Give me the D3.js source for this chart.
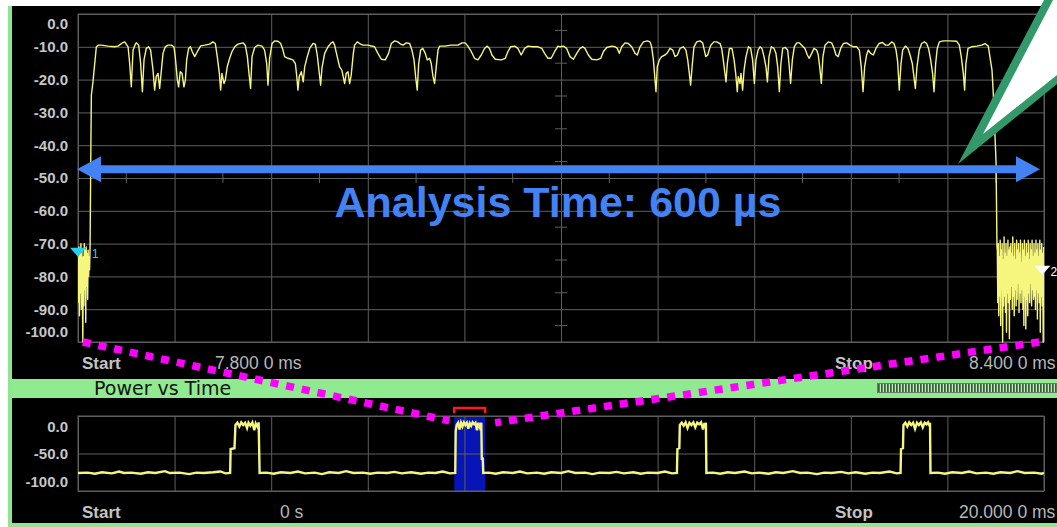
<!DOCTYPE html>
<html>
<head>
<meta charset="utf-8">
<script src="https://cdn.jsdelivr.net/npm/d3@7"></script>
<style>
html, body { margin: 0; padding: 0; background: #fff; }
svg { display: block; }
</style>
</head>
<body>
<svg id="chart" width="1057" height="527"></svg>
<script>
// top trace: time (us from 7.800 ms), level (dB)
const topTrace = [
  [0.0,-74],[0.3,-88],[0.6,-71],[0.9,-92],[1.2,-73],[1.5,-85],[1.8,-70],[2.1,-90],[2.4,-72],[2.7,-86],
  [3.0,-100],[3.3,-74],[3.6,-89],[3.9,-70],[4.2,-84],[4.5,-72],[4.8,-94],[5.1,-71],[5.4,-83],[5.7,-73],
  [6.0,-87],[6.3,-72],[6.6,-80],[6.9,-74],[7.2,-78],[7.5,-71],[8.0,-40],[8.3,-24.7],[9.3,-20.7],[11.4,-10.0],
  [12.8,-9.5],[14.5,-9.5],[18.6,-9.8],[22.8,-10.0],[24.8,-9.8],[27.9,-8.7],[29.0,-8.5],[31.1,-10.0],[32.1,-15.1],[33.1,-22.2],
  [34.2,-11.0],[35.6,-9.2],[36.2,-8.8],[37.7,-9.5],[38.9,-15.1],[40.0,-23.7],[41.0,-14.0],[42.4,-10.5],[43.9,-10.0],[45.1,-11.0],
  [46.6,-17.1],[47.6,-23.2],[48.6,-19.1],[49.7,-18.1],[50.7,-22.7],[51.8,-17.1],[52.8,-12.0],[54.2,-10.0],[55.9,-9.5],[58.0,-9.5],
  [59.6,-10.0],[60.4,-13.0],[61.7,-20.1],[62.5,-22.2],[63.5,-17.6],[64.6,-18.1],[65.8,-22.2],[66.7,-20.1],[67.5,-14.0],[68.7,-10.5],
  [69.8,-10.0],[71.0,-11.5],[72.5,-13.0],[74.1,-11.5],[76.2,-9.7],[78.7,-9.5],[81.8,-9.2],[83.8,-8.5],[85.3,-9.0],[86.5,-13.0],
  [87.8,-18.1],[88.6,-23.2],[89.4,-18.1],[90.7,-21.2],[91.5,-20.1],[92.7,-16.1],[94.2,-13.5],[95.6,-11.5],[97.3,-10.0],[99.4,-9.2],
  [102.5,-8.8],[103.9,-9.5],[105.2,-13.0],[106.2,-18.1],[107.2,-22.7],[108.1,-13.0],[109.7,-10.2],[111.8,-9.5],[114.3,-9.8],[115.9,-11.0],
  [117.2,-15.1],[118.0,-21.7],[119.0,-13.5],[120.5,-9.0],[122.1,-8.2],[124.2,-8.3],[125.9,-9.0],[127.3,-11.0],[128.3,-13.0],[130.4,-13.5],
  [133.5,-14.0],[135.0,-15.1],[135.8,-18.6],[136.6,-23.2],[137.4,-19.1],[138.7,-17.6],[139.9,-20.7],[140.8,-16.1],[142.4,-13.0],[143.9,-10.5],
  [145.9,-9.0],[147.4,-9.2],[148.6,-12.5],[150.1,-19.1],[150.7,-21.7],[151.5,-16.6],[153.2,-12.0],[155.3,-10.0],[157.3,-8.8],[158.4,-8.5],
  [159.4,-9.5],[161.0,-13.0],[162.5,-16.1],[163.9,-17.1],[165.6,-21.2],[166.6,-18.1],[167.7,-17.6],[168.7,-21.2],[169.7,-18.6],[171.0,-12.0],
  [171.8,-9.5],[173.5,-8.5],[174.9,-9.0],[177.0,-9.5],[180.1,-9.5],[184.2,-10.0],[186.3,-12.0],[188.4,-13.8],[190.9,-14.0],[192.9,-12.0],
  [194.6,-9.0],[196.7,-8.2],[198.7,-8.5],[200.4,-9.2],[201.8,-9.5],[203.9,-8.8],[206.0,-9.0],[207.4,-11.0],[208.7,-14.0],[209.7,-19.1],
  [210.7,-23.2],[211.6,-15.1],[212.8,-11.0],[214.2,-10.5],[215.7,-12.0],[216.9,-14.0],[218.4,-13.5],[219.4,-15.1],[220.5,-19.1],[221.5,-21.2],
  [222.5,-16.1],[223.6,-11.0],[224.6,-9.8],[227.7,-9.8],[231.8,-9.5],[236.0,-9.5],[238.5,-8.8],[240.5,-8.8],[242.2,-9.8],[244.3,-11.5],
  [246.3,-13.5],[248.4,-14.0],[250.5,-12.5],[252.5,-10.5],[254.2,-9.8],[255.6,-10.5],[257.1,-12.5],[259.2,-13.8],[262.9,-14.0],[265.4,-13.5],
  [267.0,-11.5],[268.7,-10.0],[271.2,-9.8],[273.2,-10.5],[275.3,-12.5],[277.4,-10.5],[279.5,-9.8],[282.6,-10.0],[285.7,-10.0],[288.1,-10.5],
  [289.8,-12.0],[291.9,-13.5],[293.9,-13.5],[296.0,-11.5],[298.1,-9.8],[299.4,-10.0],[301.5,-9.8],[303.5,-10.5],[305.6,-13.0],[307.7,-13.8],
  [309.8,-12.0],[311.8,-10.5],[313.5,-10.0],[314.9,-10.5],[317.0,-12.5],[319.1,-13.8],[322.2,-14.0],[324.7,-13.5],[326.3,-11.5],[328.4,-10.2],
  [331.5,-9.8],[333.6,-10.0],[335.0,-10.5],[336.2,-12.0],[337.7,-10.0],[339.8,-8.8],[341.8,-9.0],[343.9,-10.0],[346.0,-12.0],[347.4,-12.5],
  [349.1,-10.0],[351.2,-8.5],[353.6,-8.2],[355.3,-8.5],[356.3,-10.0],[357.4,-14.0],[358.4,-20.1],[359.0,-23.7],[359.8,-16.1],[361.1,-14.0],
  [362.5,-13.0],[364.6,-12.5],[366.1,-11.8],[367.7,-10.5],[369.4,-11.0],[370.8,-13.0],[372.3,-12.5],[373.9,-10.5],[376.0,-10.0],[377.6,-11.0],
  [378.7,-14.0],[379.7,-18.1],[380.5,-21.7],[381.6,-15.1],[382.6,-10.0],[384.3,-8.5],[386.3,-8.2],[388.0,-8.8],[389.0,-11.0],[389.9,-13.0],
  [391.1,-12.5],[393.0,-9.5],[395.0,-8.5],[396.7,-8.5],[398.8,-9.0],[399.8,-10.5],[400.8,-14.0],[401.7,-17.6],[402.5,-20.7],[403.3,-15.1],
  [404.6,-10.5],[406.2,-10.5],[407.5,-14.0],[408.5,-18.1],[409.5,-23.7],[410.1,-19.1],[411.2,-21.2],[411.8,-18.1],[412.8,-23.2],[413.7,-17.1],
  [414.9,-13.0],[416.4,-10.0],[417.8,-10.5],[419.0,-14.0],[420.1,-21.2],[421.1,-14.0],[422.4,-11.0],[423.6,-10.0],[424.8,-10.5],[426.1,-13.0],
  [427.3,-16.1],[428.2,-20.7],[429.2,-13.0],[430.6,-10.0],[432.3,-10.5],[433.5,-12.0],[434.6,-16.1],[435.6,-23.7],[436.6,-15.1],[437.7,-10.5],
  [439.3,-10.2],[440.8,-11.0],[441.8,-16.1],[442.6,-21.2],[443.7,-14.0],[444.9,-10.0],[446.4,-8.8],[448.0,-8.8],[449.5,-9.5],[451.5,-10.5],
  [453.0,-12.5],[454.2,-13.5],[455.7,-12.0],[457.1,-10.5],[458.8,-11.0],[459.8,-12.5],[460.9,-17.1],[461.7,-21.2],[462.7,-13.0],[464.0,-9.5],
  [466.0,-8.5],[468.1,-8.8],[469.6,-10.5],[470.8,-12.5],[472.2,-13.0],[473.7,-10.5],[475.4,-9.0],[477.4,-8.8],[479.5,-9.5],[481.6,-10.0],
  [483.6,-10.0],[485.3,-11.0],[486.5,-16.1],[487.6,-23.7],[488.6,-16.1],[489.8,-12.5],[490.9,-11.0],[492.3,-12.0],[494.0,-12.5],[495.6,-10.5],
  [497.5,-9.0],[499.6,-8.7],[501.6,-9.5],[503.3,-9.5],[505.4,-8.5],[506.8,-9.0],[508.1,-11.0],[509.1,-14.6],[510.1,-23.2],[511.2,-15.1],
  [512.2,-11.0],[513.9,-9.8],[515.5,-10.5],[516.8,-12.5],[518.2,-15.1],[519.2,-19.1],[520.1,-22.7],[521.1,-16.1],[522.5,-11.0],[524.0,-9.0],
  [525.7,-8.5],[527.1,-9.0],[528.3,-10.5],[529.6,-14.0],[530.8,-18.1],[531.7,-23.7],[532.7,-15.1],[533.7,-10.5],[535.0,-8.5],[537.5,-8.2],
  [541.6,-8.2],[545.7,-8.3],[547.4,-9.5],[548.6,-13.0],[549.9,-18.1],[550.7,-23.2],[551.5,-15.1],[552.8,-10.5],[555.0,-10.0],[558.2,-9.8],
  [561.3,-9.5],[563.3,-9.0],[565.4,-9.8],[566.4,-13.0],[567.7,-17.1],[568.5,-24.2],[570.2,-45],[570.8,-71],
  [571.0,-72],[571.3,-88],[571.6,-70],[571.9,-92],[572.2,-74],[572.5,-86],[572.8,-69],[573.1,-95],[573.4,-72],[573.7,-84],
  [574.0,-70],[574.3,-100],[574.6,-75],[574.9,-89],[575.2,-68],[575.5,-86],[575.8,-73],[576.1,-91],[576.4,-70],[576.7,-97],
  [577.0,-74],[577.3,-85],[577.6,-69],[577.9,-88],[578.2,-72],[578.5,-99],[578.8,-71],[579.1,-87],[579.4,-70],[579.7,-83],
  [580.0,-73],[580.3,-90],[580.6,-68],[580.9,-86],[581.2,-74],[581.5,-92],[581.8,-70],[582.1,-84],[582.4,-75],[582.7,-89],
  [583.0,-69],[583.3,-87],[583.6,-72],[583.9,-82],[584.2,-70],[584.5,-91],[584.8,-73],[585.1,-85],[585.4,-69],[585.7,-88],
  [586.0,-76],[586.3,-84],[586.6,-70],[586.9,-90],[587.2,-72],[587.5,-95],[587.8,-69],[588.1,-86],[588.4,-74],[588.7,-96],
  [589.0,-70],[589.3,-87],[589.6,-73],[589.9,-92],[590.2,-69],[590.5,-85],[590.8,-75],[591.1,-88],[591.4,-70],[591.7,-82],
  [592.0,-72],[592.3,-89],[592.6,-69],[592.9,-84],[593.2,-74],[593.5,-87],[593.8,-70],[594.1,-86],[594.4,-73],[594.7,-90],
  [595.0,-69],[595.3,-84],[595.6,-72],[595.9,-93],[596.2,-70],[596.5,-85],[596.8,-74],[597.1,-88],[597.4,-69],[597.7,-97],
  [598.0,-72],[598.3,-86],[598.6,-70],[598.9,-89],[599.2,-73],[599.5,-100],[599.8,-71]
];

// bottom trace: time (ms), level (dB)
const bottomTrace = [
  [0.0,-76],[0.2,-75.5],[0.35,-77],[0.5,-75],[0.7,-76.5],[0.85,-74],[0.95,-76],[1.1,-75.5],[1.3,-77],[1.45,-75],
  [1.6,-76],[1.8,-73.5],[1.9,-76],[2.1,-75.5],[2.3,-77.5],[2.45,-75.5],[2.6,-76],[2.8,-75],[2.95,-74],[3.05,-76.5],[3.15,-76],
  [3.16,-44],[3.24,-43],[3.26,-12],[3.3,-9],[3.34,-14],[3.38,-8.5],[3.42,-12],[3.46,-9],[3.5,-16],[3.53,-9],
  [3.57,-13],[3.61,-8.5],[3.65,-19],[3.68,-10],[3.72,-15],[3.74,-8.5],[3.76,-76],
  [3.9,-75.5],[4.05,-77],[4.2,-75],[4.4,-76],[4.55,-74],[4.7,-76.5],[4.9,-75.5],[5.05,-77.5],[5.2,-75],[5.4,-76],
  [5.55,-73.5],[5.7,-76],[5.9,-75.5],[6.05,-77],[6.2,-75.5],[6.4,-76],[6.55,-74.5],[6.7,-76.5],[6.9,-75],[7.1,-77],
  [7.25,-75.5],[7.4,-76],[7.55,-74],[7.7,-76.5],[7.81,-76],
  [7.82,-20],[7.84,-12],[7.87,-9],[7.9,-18],[7.93,-9],[7.96,-14],[7.99,-8.5],[8.02,-12],[8.05,-9],[8.08,-17],
  [8.11,-9.5],[8.14,-13],[8.17,-8.5],[8.2,-11],[8.23,-9],[8.26,-19],[8.29,-9],[8.32,-15],[8.35,-9],[8.36,-57],[8.38,-57],[8.39,-76],
  [8.5,-75.5],[8.65,-77],[8.8,-75],[9.0,-76],[9.15,-74],[9.3,-76.5],[9.5,-75.5],[9.65,-77],[9.8,-75],[10.0,-76],
  [10.15,-73.5],[10.3,-76],[10.5,-75.5],[10.65,-77.5],[10.8,-75.5],[11.0,-76],[11.15,-74.5],[11.3,-76.5],[11.5,-75],[11.65,-77],
  [11.8,-75.5],[12.0,-76],[12.15,-74],[12.3,-76.5],[12.4,-76],
  [12.41,-44],[12.45,-43],[12.46,-12],[12.5,-9],[12.54,-13],[12.58,-8.5],[12.62,-16],[12.66,-9],[12.7,-12],[12.74,-8.5],
  [12.78,-15],[12.82,-9],[12.86,-11],[12.9,-8.5],[12.94,-18],[12.97,-9.5],[12.99,-14],[13.0,-9],[13.01,-76],
  [13.15,-75.5],[13.3,-77],[13.45,-75],[13.6,-76],[13.8,-74],[13.95,-76.5],[14.1,-75.5],[14.3,-77],[14.45,-75],[14.6,-76],
  [14.8,-73.5],[14.95,-76],[15.1,-75.5],[15.3,-77.5],[15.45,-75.5],[15.6,-76],[15.8,-74.5],[15.95,-76.5],[16.1,-75],[16.3,-77],
  [16.45,-75.5],[16.6,-76],[16.8,-74],[16.95,-76.5],[17.03,-76],
  [17.04,-44],[17.08,-43],[17.09,-12],[17.13,-9],[17.17,-14],[17.21,-8.5],[17.25,-12],[17.29,-9],[17.33,-17],[17.37,-9],
  [17.41,-12],[17.45,-8.5],[17.49,-15],[17.53,-9],[17.57,-11],[17.6,-8.5],[17.63,-13],[17.64,-9],[17.65,-76],
  [17.8,-75.5],[17.95,-77],[18.1,-75],[18.3,-76],[18.45,-74],[18.6,-76.5],[18.8,-75.5],[18.95,-77],[19.1,-75],[19.3,-76],
  [19.45,-73.5],[19.6,-76],[19.8,-75.5],[19.95,-77],[20.0,-76]
];

const topLevels = [0, -10, -20, -30, -40, -50, -60, -70, -80, -90, -100];
const bottomLevels = [0, -50, -100];
const topGridTimes = [0, 60, 120, 180, 240, 300, 360, 420, 480, 540, 600];
const bottomGridTimes = [0, 2, 4, 6, 8, 10, 12, 14, 16, 18, 20];
const minorLevels = [-5, -15, -25, -35, -45, -55, -65, -75, -85, -95];
const minorTimes = [30, 90, 150, 210, 270, 330, 390, 450, 510, 570];
const topTimeLabels = ['Start', '7.800 0 ms', 'Stop', '8.400 0 ms'];
const bottomTimeLabels = ['Start', '0 s', 'Stop', '20.000 0 ms'];
const analysisWindow = [7.79, 8.43];   // ms, shown in the lower panel
const markers = [
    { t: 0, level: -74, color: '#22d2f2', label: '1' },
    { t: 599, level: -79.5, color: '#ffffff', label: '2' }
];

const svg = d3.select('#chart');
const grey = '#5e5e5e';
const traceColor = '#f6f67e';
const labelFont = "'Liberation Sans', Arial, sans-serif";

// frame
svg.append('rect').attr('width', 1057).attr('height', 527).attr('fill', '#fff');
svg.append('rect').attr('x', 12).attr('y', 6).attr('width', 1045).attr('height', 373).attr('fill', '#000');
svg.append('rect').attr('x', 12).attr('y', 379).attr('width', 1045).attr('height', 19).attr('fill', '#90ea90');
svg.append('rect').attr('x', 12).attr('y', 398).attr('width', 1045).attr('height', 125).attr('fill', '#000');
svg.append('rect').attr('x', 8).attr('y', 6).attr('width', 4).attr('height', 521).attr('fill', '#8ee68e');
svg.append('rect').attr('x', 8).attr('y', 523).attr('width', 1049).attr('height', 4).attr('fill', '#8ee68e');

const defs = svg.append('defs');
const pat = defs.append('pattern').attr('id', 'stripes')
    .attr('width', 3).attr('height', 8).attr('patternUnits', 'userSpaceOnUse');
pat.append('rect').attr('width', 3).attr('height', 8).attr('fill', '#203420');
pat.append('rect').attr('x', 0.6).attr('width', 1.6).attr('height', 8).attr('fill', '#b8f2b8');

// scales
const xTop = d3.scaleLinear().domain([0, 600]).range([78, 1044]);
const yTop = d3.scaleLinear().domain([-100, 0]).range([342, 14]);
const xBot = d3.scaleLinear().domain([0, 20]).range([78, 1044]);
const yBot = d3.scaleLinear().domain([-100, 0]).range([491, 416]);

defs.append('clipPath').attr('id', 'clipTop').append('rect')
    .attr('x', 78).attr('y', 13).attr('width', 966).attr('height', 330);
defs.append('clipPath').attr('id', 'clipBot').append('rect')
    .attr('x', 78).attr('y', 415).attr('width', 966).attr('height', 77);

function grid(g, x, y, times, levels) {
    const [x0, x1] = x.range();
    const [y0, y1] = y.range();
    g.append('g').attr('transform', `translate(0,${y0})`)
        .call(d3.axisBottom(x).tickValues(times).tickSize(y1 - y0).tickFormat(''))
        .call(a => a.select('.domain').remove())
        .selectAll('line').attr('stroke', grey);
    g.append('g').attr('transform', `translate(${x0},0)`)
        .call(d3.axisLeft(y).tickValues(levels).tickSize(x0 - x1).tickFormat(''))
        .call(a => a.select('.domain').remove())
        .selectAll('line').attr('stroke', grey);
    g.append('rect').attr('x', x0).attr('y', y1).attr('width', x1 - x0).attr('height', y0 - y1)
        .attr('fill', 'none').attr('stroke', grey);
}

function levelLabels(g, y, levels, shiftTop, shiftBottom) {
    g.selectAll('text').data(levels).join('text')
        .attr('x', 68)
        .attr('y', (d, i) => y(d) + (i === 0 ? shiftTop : i === levels.length - 1 ? shiftBottom : 0))
        .attr('dy', '0.36em')
        .attr('text-anchor', 'end')
        .attr('font-family', labelFont)
        .attr('font-weight', 'bold')
        .attr('font-size', 15)
        .attr('fill', '#c6c6c6')
        .text(d => d.toFixed(1));
}

function timeLabels(g, labels, xs, baseline) {
    g.selectAll('text').data(labels).join('text')
        .attr('x', (d, i) => xs[i])
        .attr('y', baseline)
        .attr('font-family', labelFont)
        .attr('font-size', (d, i) => i % 2 === 0 ? 17 : 17.5)
        .attr('font-weight', (d, i) => i % 2 === 0 ? 'bold' : 'normal')
        .attr('fill', (d, i) => i % 2 === 0 ? '#c4c4c4' : '#b8b8b8')
        .text(d => d);
}

// ---- top panel ----
const gTop = svg.append('g');
grid(gTop, xTop, yTop, topGridTimes, topLevels);

gTop.append('g').selectAll('line').data(minorLevels).join('line')
    .attr('x1', xTop(300) - 6).attr('x2', xTop(300) + 6)
    .attr('y1', d => yTop(d)).attr('y2', d => yTop(d))
    .attr('stroke', grey);
gTop.append('g').selectAll('line').data(minorTimes).join('line')
    .attr('x1', d => xTop(d)).attr('x2', d => xTop(d))
    .attr('y1', yTop(-50) - 5).attr('y2', yTop(-50) + 5)
    .attr('stroke', grey);

levelLabels(svg.append('g'), yTop, topLevels, 10, -10);
timeLabels(svg.append('g'), topTimeLabels, [82, 215, 835, 969], 369);

const lineTop = d3.line().x(d => xTop(d[0])).y(d => yTop(d[1]));
gTop.append('path').datum(topTrace)
    .attr('clip-path', 'url(#clipTop)')
    .attr('d', lineTop)
    .attr('fill', 'none')
    .attr('stroke', traceColor)
    .attr('stroke-width', 1.4)
    .attr('stroke-linejoin', 'round');

// markers
markers.forEach((m, i) => {
    const mx = xTop(m.t), my = yTop(m.level);
    svg.append('path')
        .attr('d', `M${mx},${my} L${mx - 8},${my - 9} L${mx + 8},${my - 9} Z`)
        .attr('fill', m.color);
    svg.append('text')
        .attr('x', mx + (i === 0 ? 14 : 8))
        .attr('y', my + 1)
        .attr('font-family', labelFont)
        .attr('font-size', 12)
        .attr('fill', m.color)
        .text(m.label);
});

// analysis time arrow
const arrowColor = '#4282f2';
const ay = yTop(-47.3);
const ax0 = xTop(0) - 1, ax1 = xTop(600) - 4;
svg.append('line')
    .attr('x1', ax0 + 20).attr('x2', ax1 - 20).attr('y1', ay).attr('y2', ay)
    .attr('stroke', arrowColor).attr('stroke-width', 8);
svg.append('path')
    .attr('d', `M${ax0},${ay} L${ax0 + 24},${ay - 13} L${ax0 + 24},${ay + 13} Z`)
    .attr('fill', arrowColor);
svg.append('path')
    .attr('d', `M${ax1},${ay} L${ax1 - 24},${ay - 13} L${ax1 - 24},${ay + 13} Z`)
    .attr('fill', arrowColor);
svg.append('text')
    .attr('x', xTop(300) - 3).attr('y', 217)
    .attr('text-anchor', 'middle')
    .attr('font-family', labelFont)
    .attr('font-weight', 'bold')
    .attr('font-size', 43)
    .attr('fill', arrowColor)
    .text('Analysis Time: 600 \u00b5s');

// callout tail
svg.append('polygon')
    .attr('points', '958,164 1044,0 1057,0 1057,84')
    .attr('fill', '#33996a');
svg.append('polygon')
    .attr('points', '983,134 1053,0 1057,0 1057,75')
    .attr('fill', '#fff');

// ---- header ----
svg.append('text')
    .attr('x', 94).attr('y', 395)
    .attr('font-family', "'DejaVu Sans', sans-serif")
    .attr('font-size', 19)
    .attr('fill', '#141414')
    .text('Power vs Time');
svg.append('rect')
    .attr('x', 877.5).attr('y', 383.5).attr('width', 180).attr('height', 9)
    .attr('fill', 'url(#stripes)')
    .attr('stroke', '#6a7a6a');

// ---- bottom panel ----
const gBot = svg.append('g');
gBot.append('rect')
    .attr('x', xBot(analysisWindow[0])).attr('y', yBot(0))
    .attr('width', xBot(analysisWindow[1]) - xBot(analysisWindow[0]))
    .attr('height', yBot(-100) - yBot(0))
    .attr('fill', '#0714b6');
grid(gBot, xBot, yBot, bottomGridTimes, bottomLevels);

gBot.append('path')
    .attr('d', `M${xBot(analysisWindow[0])},413 V408 H${xBot(analysisWindow[1])} V413`)
    .attr('fill', 'none')
    .attr('stroke', '#ff1a1a')
    .attr('stroke-width', 2.5);

levelLabels(svg.append('g'), yBot, bottomLevels, 11, -9);
timeLabels(svg.append('g'), bottomTimeLabels, [82, 280, 835, 959], 518);

const lineBot = d3.line().x(d => xBot(d[0])).y(d => yBot(d[1]));
gBot.append('path').datum(bottomTrace)
    .attr('clip-path', 'url(#clipBot)')
    .attr('d', lineBot)
    .attr('fill', 'none')
    .attr('stroke', traceColor)
    .attr('stroke-width', 2.4);

// zoom guides
const dotted = [
    [[xTop(3), yTop(-100)], [xBot(analysisWindow[0]) - 5, yBot(-6.5)]],
    [[xTop(597), yTop(-100)], [xBot(analysisWindow[1]) + 10, yBot(-9)]]
];
svg.append('g').selectAll('line').data(dotted).join('line')
    .attr('x1', d => d[0][0]).attr('y1', d => d[0][1])
    .attr('x2', d => d[1][0]).attr('y2', d => d[1][1])
    .attr('stroke', '#ff00ff')
    .attr('stroke-width', 7.5)
    .attr('stroke-dasharray', '8 8');
</script>
</body>
</html>
